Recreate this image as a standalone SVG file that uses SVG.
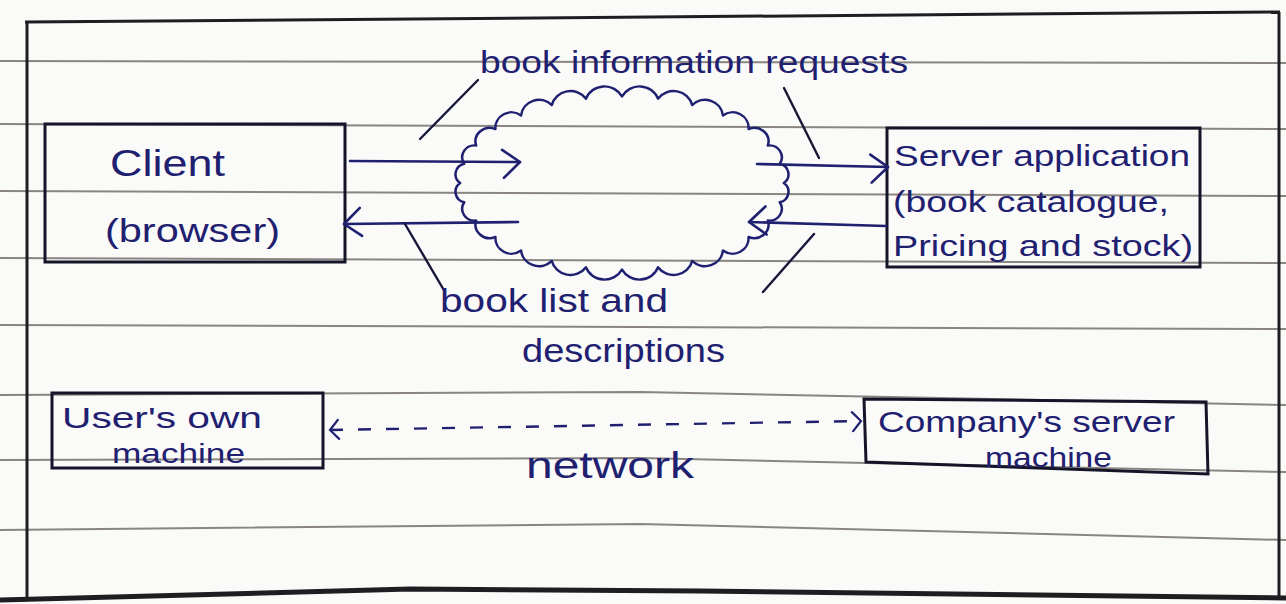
<svg xmlns="http://www.w3.org/2000/svg" width="1286" height="604" viewBox="0 0 1286 604">
<style>
.paper{fill:#fafaf9}
.rule{stroke:#8a8580;stroke-width:2;fill:none}
.border{stroke:#1e1e22;stroke-width:3;fill:none}
.box{stroke:#15152a;stroke-width:3;fill:none}
.ink{stroke:#1f2170;stroke-width:2.6;fill:none;stroke-linecap:round;stroke-linejoin:round}
.lead{stroke:#17173a;stroke-width:2.4;fill:none;stroke-linecap:round}
.dash{stroke:#1f2170;stroke-width:2.4;fill:none;stroke-dasharray:13 15}
text{font-family:"Liberation Sans","DejaVu Sans",sans-serif;fill:#1f2170}
</style>
<defs>
<marker id="open" markerUnits="userSpaceOnUse" markerWidth="24" markerHeight="36" refX="20" refY="16" orient="auto" viewBox="0 0 24 36">
<path d="M2,4 L20,16 L4,32" fill="none" stroke="#1f2170" stroke-width="2.6" stroke-linecap="round" stroke-linejoin="round"/>
</marker>
<marker id="small" markerUnits="userSpaceOnUse" markerWidth="14" markerHeight="22" refX="11" refY="10" orient="auto-start-reverse" viewBox="0 0 14 22">
<path d="M2,1 L11,10 L3,20" fill="none" stroke="#1f2170" stroke-width="2.2" stroke-linecap="round"/>
</marker>
</defs>
<rect class="paper" x="0" y="0" width="1286" height="604"/>
<g id="paper-lines">
<path class="rule" d="M0,61 L1286,63"/>
<path class="rule" d="M0,124 L1286,129"/>
<path class="rule" d="M0,191 L1286,196"/>
<path class="rule" d="M0,258 L1286,263"/>
<path class="rule" d="M0,325 L1286,329"/>
<path class="rule" d="M0,395 L640,392 L1286,405"/>
<path class="rule" d="M0,460 L640,458 L1286,472"/>
<path class="rule" d="M0,530 L640,524 L1286,540"/>
<path class="border" d="M25,22 L1280,12"/>
<path class="border" d="M27,22 L27,598"/>
<path class="border" d="M1279,12 L1279,598"/>
<path d="M0,600 L410,589 L700,591 L1286,598" stroke="#1e1e22" stroke-width="5" fill="none"/>
</g>
<g id="client">
<rect class="box" x="45" y="124" width="300" height="138"/>
<text x="110" y="176" font-size="36" textLength="115" lengthAdjust="spacingAndGlyphs">Client</text>
<text x="105" y="242" font-size="34" textLength="175" lengthAdjust="spacingAndGlyphs">(browser)</text>
</g>
<g id="internet-cloud">
<path class="ink" transform="translate(622,183) scale(0.975,0.94) translate(-622,-182)" d="M788,182
A11.5,11.5 0 0 1 783.8,202.5
A12.6,12.6 0 0 1 771.6,221.9
A14.5,14.5 0 0 1 751.8,239.4
A16.5,16.5 0 0 1 725.5,253.9
A18.4,18.4 0 0 1 694,264.9
A19.7,19.7 0 0 1 658.9,271.7
A20.3,20.3 0 0 1 622,274
A20.3,20.3 0 0 1 585.1,271.7
A19.7,19.7 0 0 1 550,264.9
A18.4,18.4 0 0 1 518.5,253.9
A16.5,16.5 0 0 1 492.2,239.4
A14.5,14.5 0 0 1 472.4,221.9
A12.6,12.6 0 0 1 460.2,202.5
A11.5,11.5 0 0 1 456,182
A11.5,11.5 0 0 1 460.2,161.5
A12.6,12.6 0 0 1 472.4,142.1
A14.5,14.5 0 0 1 492.2,124.6
A16.5,16.5 0 0 1 518.5,110.1
A18.4,18.4 0 0 1 550,99.1
A19.7,19.7 0 0 1 585.1,92.3
A20.3,20.3 0 0 1 622,90
A20.3,20.3 0 0 1 658.9,92.3
A19.7,19.7 0 0 1 694,99.1
A18.4,18.4 0 0 1 725.5,110.1
A16.5,16.5 0 0 1 751.8,124.6
A14.5,14.5 0 0 1 771.6,142.1
A12.6,12.6 0 0 1 783.8,161.5
A11.5,11.5 0 0 1 788,182 Z"/>
</g>
<g id="server">
<rect class="box" x="887" y="128" width="313" height="139"/>
<text x="894" y="166" font-size="30" textLength="296" lengthAdjust="spacingAndGlyphs">Server application</text>
<text x="893" y="212" font-size="30" textLength="276" lengthAdjust="spacingAndGlyphs">(book catalogue,</text>
<text x="893" y="256" font-size="30" textLength="300" lengthAdjust="spacingAndGlyphs">Pricing and stock)</text>
</g>
<g id="users-machine">
<rect class="box" x="52" y="393" width="271" height="75"/>
<text x="62" y="428" font-size="30" textLength="200" lengthAdjust="spacingAndGlyphs">User's own</text>
<text x="112" y="463" font-size="28" textLength="133" lengthAdjust="spacingAndGlyphs">machine</text>
</g>
<g id="company-machine">
<path class="box" d="M864,399 L1206,402 L1208,474 L866,462 Z"/>
<text x="878" y="432" font-size="30" textLength="297" lengthAdjust="spacingAndGlyphs">Company's server</text>
<text x="985" y="467" font-size="28" textLength="127" lengthAdjust="spacingAndGlyphs">machine</text>
</g>
<g id="connectors">
<path class="ink" d="M350,161 L520,162" marker-end="url(#open)"/>
<path class="ink" d="M518,222 L344,224" marker-end="url(#open)"/>
<path class="ink" d="M757,164 L888,167" marker-end="url(#open)"/>
<path class="ink" d="M886,226 L749,222" marker-end="url(#open)"/>
<path class="dash" d="M330,430 L861,421" marker-start="url(#small)" marker-end="url(#small)"/>
<path class="lead" d="M420,139 L478,80"/>
<path class="lead" d="M784,88 L819,158"/>
<path class="lead" d="M405,224 L445,292"/>
<path class="lead" d="M763,292 L814,234"/>
<text x="480" y="73" font-size="32" textLength="428" lengthAdjust="spacingAndGlyphs">book information requests</text>
<text x="440" y="312" font-size="34" textLength="228" lengthAdjust="spacingAndGlyphs">book list and</text>
<text x="522" y="362" font-size="34" textLength="203" lengthAdjust="spacingAndGlyphs">descriptions</text>
<text x="526" y="478" font-size="36" textLength="168" lengthAdjust="spacingAndGlyphs">network</text>
</g>
</svg>
